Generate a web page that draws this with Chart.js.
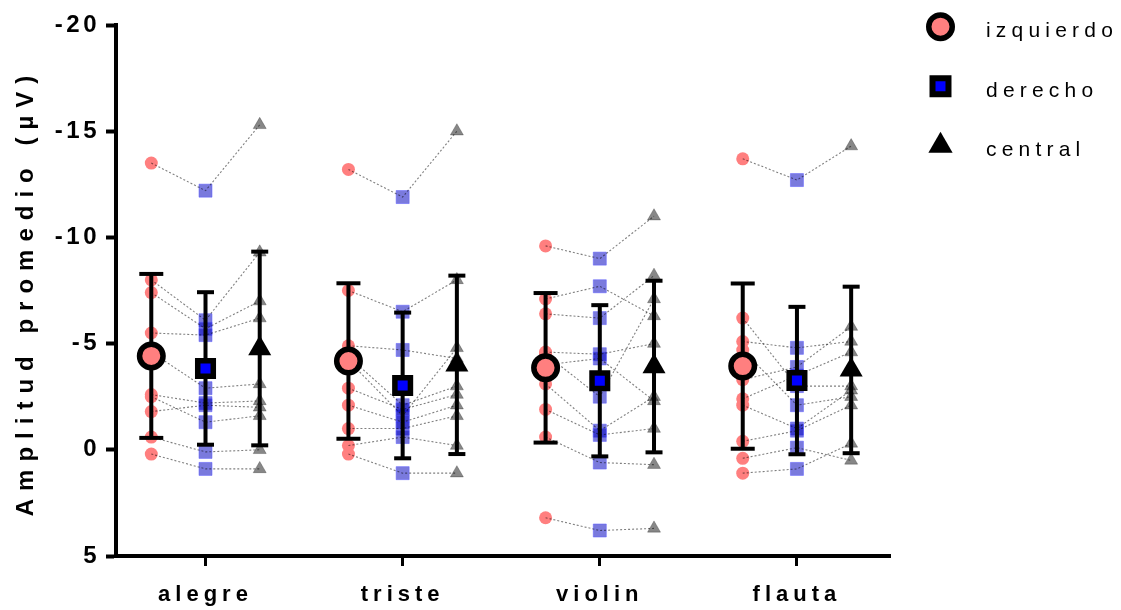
<!DOCTYPE html>
<html>
<head>
<meta charset="utf-8">
<script src="https://cdn.jsdelivr.net/npm/chart.js@4.4.1/dist/chart.umd.min.js"></script>
<style>
  html, body { margin: 0; padding: 0; background: #fff; }
</style>
</head>
<body>
<canvas id="chart" width="1121" height="610"></canvas>
<script>
const categories = ['alegre', 'triste', 'violin', 'flauta']
const conditions = ['izquierdo', 'derecho', 'central']
const yTicks = [5, 0, -5, -10, -15, -20]

// one row per category, one value per subject (same subject order in each condition)
const izquierdo = [
  [-13.5, -8.0, -7.4, -5.5, -4.6, -2.6, -2.5, -1.8, -0.6, 0.2],
  [-13.2, -7.5, -4.9, -4.4, -4.2, -2.9, -2.1, -1.0, -0.2, 0.2],
  [-9.6, -7.1, -6.4, -4.6, -4.0, -4.5, -3.1, -1.9, -0.6, 3.2],
  [-13.7, -6.2, -5.1, -4.7, -3.3, -2.4, -2.1, -0.4, 0.4, 1.1],
]
const derecho = [
  [-12.2, -6.1, -5.7, -5.4, -2.9, -2.2, -1.3, -2.1, 0.1, 0.9],
  [-11.9, -6.5, -4.7, -2.1, -1.6, -1.9, -1.3, -1.0, -0.6, 1.1],
  [-9.0, -7.7, -6.2, -4.5, -4.3, -2.5, -0.9, -0.7, 0.6, 3.8],
  [-12.7, -3.0, -4.8, -2.1, -3.9, -3.5, -1.0, -0.9, -0.1, 0.9],
]
const central = [
  [-15.3, -9.3, -7.0, -6.2, -3.1, -2.3, -1.6, -2.0, 0.0, 0.9],
  [-15.0, -8.0, -4.3, -3.0, -4.8, -2.6, -2.1, -1.6, -0.2, 1.1],
  [-11.0, -6.3, -8.2, -5.0, -2.3, -7.1, -2.5, -1.0, 0.7, 3.7],
  [-14.3, -3.0, -5.1, -2.5, -5.8, -4.6, -2.8, -2.1, 0.5, -0.3],
]

// group means and SD per category
const meanIzq = [-4.42, -4.18, -3.86, -3.94]
const sdIzq   = [3.86, 3.66, 3.52, 3.89]
const meanDer = [-3.83, -3.03, -3.25, -3.26]
const sdDer   = [3.59, 3.43, 3.56, 3.47]
const meanCen = [-4.77, -4.00, -3.92, -3.76]
const sdCen   = [4.56, 4.20, 4.04, 3.92]

const FONT = '"Liberation Sans", Arial, sans-serif'
const PINK = '#ff7f7f'
const OFF = 0.275
const xOf = (g, k) => g + 1 + (k - 1) * OFF

const pts = (rows, k) => rows.flatMap((row, g) => row.map(v => ({ x: xOf(g, k), y: v })))
const meanPts = (m, k) => m.map((v, g) => ({ x: xOf(g, k), y: v }))
const barPts = (m, sd, k) => m.flatMap((v, g) => [
  { x: xOf(g, k), y: v - sd[g] }, { x: xOf(g, k), y: v + sd[g] }, { x: xOf(g, k), y: null }])

// dotted line per subject, broken between categories
const subjectLines = izquierdo[0].map((_, s) => ({
  data: categories.flatMap((c, g) => [
    { x: xOf(g, 0), y: izquierdo[g][s] },
    { x: xOf(g, 1), y: derecho[g][s] },
    { x: xOf(g, 2), y: central[g][s] },
    { x: g + 1.5, y: null }]),
  showLine: true, borderColor: 'rgba(0,0,0,0.5)', borderWidth: 1.1, borderDash: [2, 2],
  pointRadius: 0, order: 3,
}))

const errorBars = (m, sd, k, cap) => ({
  data: barPts(m, sd, k), showLine: true, borderColor: '#000', borderWidth: 4,
  pointStyle: 'line', pointRadius: cap, pointBorderWidth: 4, pointBorderColor: '#000', order: 2,
})

const datasets = [
  { data: pts(izquierdo, 0), pointStyle: 'circle', pointRadius: 6.5, pointBorderWidth: 0,
    pointBackgroundColor: PINK, order: 4 },
  { data: pts(derecho, 1), pointStyle: 'rect', pointRadius: 9.2, pointBorderWidth: 1,
    pointBackgroundColor: 'rgba(0,0,190,0.52)', pointBorderColor: 'rgba(90,90,255,0.5)', order: 4 },
  { data: pts(central, 2), pointStyle: 'triangle', pointRadius: 7.5, pointBorderWidth: 1,
    pointBackgroundColor: 'rgba(0,0,0,0.47)', pointBorderColor: 'rgba(0,0,0,0.25)', order: 4 },
  ...subjectLines,
  errorBars(meanIzq, sdIzq, 0, 12),
  errorBars(meanDer, sdDer, 1, 8.5),
  errorBars(meanCen, sdCen, 2, 8.5),
  { data: meanPts(meanIzq, 0), pointStyle: 'circle', pointRadius: 11.75, pointBorderWidth: 5.5,
    pointBackgroundColor: PINK, pointBorderColor: '#000', order: 1 },
  { data: meanPts(meanDer, 1), pointStyle: 'rect', pointRadius: 11, pointBorderWidth: 5.5,
    pointBackgroundColor: '#0000ff', pointBorderColor: '#000', order: 1 },
  { data: meanPts(meanCen, 2), pointStyle: 'triangle', pointRadius: 13.3, pointBorderWidth: 0,
    pointBackgroundColor: '#000', pointBorderColor: '#000', order: 1 },
]

const legendMarks = [
  { pointStyle: 'circle', radius: 11.75, fill: PINK, stroke: '#000', width: 5.5 },
  { pointStyle: 'rect', radius: 11.3, fill: '#0000ff', stroke: '#000', width: 6 },
  { pointStyle: 'triangle', radius: 14, fill: '#000', stroke: '#000', width: 0 },
]

const decor = {
  id: 'decor',
  beforeDraw(chart) { chart.ctx.letterSpacing = '3.5px' },
  afterDatasetsDraw(chart) { chart.ctx.letterSpacing = '5px' },
  afterDraw(chart) {
    const ctx = chart.ctx
    // y axis title
    ctx.save()
    ctx.translate(33, 292)
    ctx.rotate(-Math.PI / 2)
    ctx.font = `bold 24px ${FONT}`
    ctx.letterSpacing = '8px'
    ctx.textAlign = 'center'
    ctx.textBaseline = 'alphabetic'
    ctx.fillStyle = '#000'
    ctx.fillText('Amplitud promedio (µV)', 0, 0)
    ctx.restore()

    // legend
    ctx.save()
    ctx.font = `21px ${FONT}`
    ctx.letterSpacing = '5.2px'
    ctx.textAlign = 'left'
    ctx.textBaseline = 'alphabetic'
    conditions.forEach((name, i) => {
      const m = legendMarks[i]
      const cy = 26.7 + i * 59.5
      ctx.fillStyle = m.fill
      ctx.strokeStyle = m.stroke
      ctx.lineWidth = m.width
      Chart.helpers.drawPoint(ctx, { pointStyle: m.pointStyle, radius: m.radius, rotation: 0, borderWidth: m.width }, 940.5, cy)
      ctx.fillStyle = '#000'
      ctx.fillText(name, 986, cy + 10.6)
    })
    ctx.restore()
    ctx.letterSpacing = '0px'
  },
}

new Chart(document.getElementById('chart'), {
  type: 'scatter',
  data: { datasets },
  plugins: [decor],
  options: {
    responsive: false,
    devicePixelRatio: 1,
    animation: false,
    events: [],
    layout: { padding: { top: 25, right: 231, left: 0, bottom: 0 } },
    elements: { line: { tension: 0 } },
    plugins: { legend: { display: false }, tooltip: { enabled: false } },
    datasets: { scatter: { clip: false } },
    scales: {
      x: {
        type: 'linear', min: 0.546, max: 4.472,
        afterBuildTicks: s => { s.ticks = categories.map((c, i) => ({ value: i + 1 })) },
        afterFit: s => { s.height = 54 },
        grid: { drawOnChartArea: false, tickLength: 10, tickWidth: 3, tickColor: '#000' },
        border: { color: '#000', width: 4 },
        ticks: {
          autoSkip: false, maxRotation: 0, padding: 16, color: '#000', z: 1,
          font: { family: FONT, size: 22, weight: 'bold' },
          callback: v => categories[v - 1] ?? '',
        },
      },
      y: {
        type: 'linear', reverse: true, min: -20, max: 5,
        afterBuildTicks: s => { s.ticks = yTicks.map(v => ({ value: v })) },
        afterFit: s => { s.width = 116 },
        grid: { drawOnChartArea: false, tickLength: 10, tickWidth: 4, tickColor: '#000' },
        border: { color: '#000', width: 4 },
        ticks: {
          padding: 6, color: '#000',
          font: { family: FONT, size: 24, weight: 'bold' },
          callback: v => String(v),
        },
      },
    },
  },
})
</script>
</body>
</html>
